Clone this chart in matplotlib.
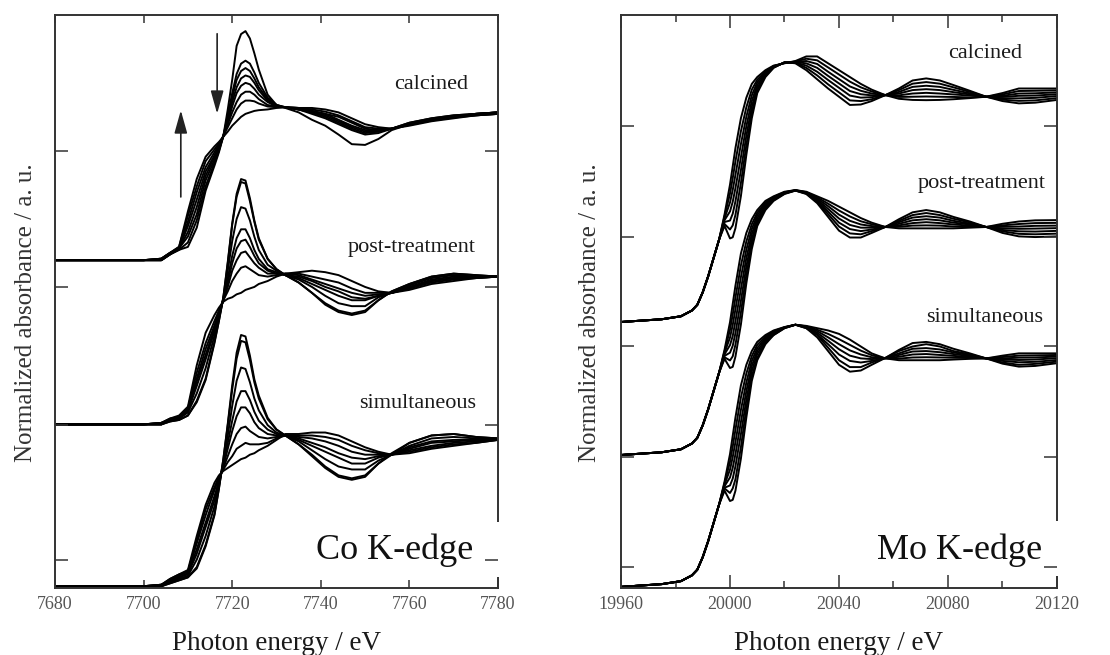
import numpy as np
import matplotlib
matplotlib.use('Agg')
import matplotlib.pyplot as plt
from matplotlib.patches import Rectangle

plt.rcParams['font.family'] = ['Liberation Serif', 'DejaVu Serif']
plt.rcParams['axes.unicode_minus'] = False

# ---------------- Co K-edge 数据 (归一化吸收, 每组 8 条谱) ----------------
co_energy = [7680, 7700, 7704, 7706, 7708, 7710, 7712, 7714, 7716, 7717,
             7718, 7719, 7720, 7721, 7722, 7723, 7724, 7725, 7726, 7728,
             7730, 7732, 7735, 7738, 7741, 7744, 7747, 7750, 7753, 7756,
             7760, 7765, 7770, 7775, 7780]

co_calcined = [
    [0.00, 0.00, 0.00, 0.04, 0.07, 0.09, 0.22, 0.47, 0.64, 0.73, 0.84, 1.02, 1.22, 1.45, 1.53, 1.55, 1.50, 1.40, 1.29, 1.12, 1.05, 1.03, 1.00, 0.95, 0.91, 0.85, 0.785, 0.78, 0.82, 0.88, 0.92, 0.95, 0.97, 0.99, 1.00],
    [0.00, 0.00, 0.00, 0.04, 0.07, 0.12, 0.27, 0.50, 0.66, 0.74, 0.84, 0.98, 1.13, 1.26, 1.33, 1.35, 1.33, 1.27, 1.20, 1.10, 1.05, 1.035, 1.02, 0.99, 0.96, 0.92, 0.88, 0.85, 0.86, 0.89, 0.93, 0.96, 0.98, 0.99, 1.00],
    [0.00, 0.00, 0.00, 0.04, 0.08, 0.16, 0.31, 0.54, 0.68, 0.75, 0.84, 0.96, 1.10, 1.22, 1.28, 1.30, 1.28, 1.23, 1.17, 1.09, 1.05, 1.035, 1.02, 1.00, 0.97, 0.93, 0.89, 0.86, 0.87, 0.89, 0.93, 0.96, 0.98, 0.99, 1.00],
    [0.00, 0.00, 0.00, 0.04, 0.08, 0.19, 0.36, 0.57, 0.70, 0.76, 0.84, 0.95, 1.07, 1.17, 1.23, 1.25, 1.24, 1.20, 1.15, 1.08, 1.04, 1.035, 1.02, 1.00, 0.98, 0.94, 0.90, 0.87, 0.87, 0.89, 0.92, 0.95, 0.97, 0.99, 1.00],
    [0.00, 0.00, 0.01, 0.05, 0.08, 0.23, 0.41, 0.60, 0.71, 0.77, 0.84, 0.93, 1.04, 1.13, 1.18, 1.20, 1.19, 1.16, 1.12, 1.07, 1.04, 1.035, 1.02, 1.01, 0.99, 0.95, 0.91, 0.88, 0.88, 0.89, 0.92, 0.95, 0.97, 0.99, 1.00],
    [0.00, 0.00, 0.01, 0.05, 0.08, 0.26, 0.46, 0.63, 0.73, 0.78, 0.84, 0.92, 1.00, 1.07, 1.12, 1.14, 1.14, 1.12, 1.09, 1.05, 1.04, 1.035, 1.03, 1.01, 0.99, 0.97, 0.93, 0.89, 0.88, 0.89, 0.92, 0.95, 0.97, 0.98, 0.99],
    [0.00, 0.00, 0.01, 0.05, 0.09, 0.30, 0.50, 0.67, 0.75, 0.79, 0.84, 0.90, 0.96, 1.02, 1.06, 1.08, 1.08, 1.075, 1.06, 1.04, 1.035, 1.035, 1.03, 1.02, 1.005, 0.98, 0.94, 0.90, 0.89, 0.89, 0.915, 0.945, 0.965, 0.98, 0.99],
    [0.00, 0.00, 0.01, 0.05, 0.09, 0.33, 0.55, 0.70, 0.77, 0.80, 0.835, 0.87, 0.91, 0.94, 0.97, 0.99, 1.00, 1.01, 1.015, 1.02, 1.03, 1.035, 1.03, 1.03, 1.02, 1.00, 0.96, 0.92, 0.90, 0.89, 0.91, 0.94, 0.96, 0.98, 0.99],
]

co_post = [
    [0.00, 0.00, 0.00, 0.02, 0.03, 0.06, 0.15, 0.30, 0.55, 0.70, 0.86, 1.10, 1.36, 1.56, 1.66, 1.65, 1.53, 1.38, 1.26, 1.12, 1.05, 1.01, 0.96, 0.89, 0.81, 0.76, 0.74, 0.76, 0.84, 0.90, 0.95, 1.00, 1.02, 1.01, 1.00],
    [0.00, 0.00, 0.00, 0.02, 0.03, 0.06, 0.16, 0.31, 0.56, 0.70, 0.86, 1.09, 1.35, 1.54, 1.64, 1.63, 1.51, 1.37, 1.25, 1.12, 1.05, 1.01, 0.96, 0.89, 0.82, 0.77, 0.75, 0.77, 0.84, 0.90, 0.95, 1.00, 1.02, 1.01, 1.00],
    [0.00, 0.00, 0.00, 0.03, 0.04, 0.08, 0.21, 0.38, 0.60, 0.72, 0.85, 1.04, 1.24, 1.39, 1.47, 1.46, 1.38, 1.27, 1.18, 1.08, 1.04, 1.01, 0.98, 0.93, 0.87, 0.82, 0.80, 0.80, 0.86, 0.89, 0.94, 0.99, 1.01, 1.00, 1.00],
    [0.00, 0.00, 0.00, 0.03, 0.04, 0.09, 0.26, 0.44, 0.63, 0.74, 0.85, 0.99, 1.14, 1.26, 1.32, 1.32, 1.26, 1.18, 1.12, 1.05, 1.03, 1.01, 0.99, 0.95, 0.91, 0.87, 0.84, 0.84, 0.87, 0.89, 0.93, 0.98, 1.00, 1.00, 1.00],
    [0.00, 0.00, 0.01, 0.03, 0.05, 0.09, 0.29, 0.47, 0.65, 0.75, 0.84, 0.96, 1.09, 1.19, 1.24, 1.25, 1.20, 1.14, 1.09, 1.04, 1.02, 1.01, 1.00, 0.97, 0.93, 0.90, 0.86, 0.85, 0.87, 0.89, 0.93, 0.97, 0.99, 1.00, 1.00],
    [0.00, 0.00, 0.01, 0.03, 0.05, 0.10, 0.31, 0.51, 0.67, 0.76, 0.84, 0.93, 1.04, 1.11, 1.16, 1.17, 1.13, 1.09, 1.06, 1.02, 1.02, 1.02, 1.01, 0.98, 0.95, 0.92, 0.89, 0.87, 0.88, 0.89, 0.92, 0.97, 0.99, 0.99, 1.00],
    [0.00, 0.00, 0.01, 0.04, 0.05, 0.11, 0.35, 0.55, 0.70, 0.77, 0.84, 0.90, 0.97, 1.02, 1.06, 1.07, 1.05, 1.03, 1.01, 1.00, 1.01, 1.02, 1.02, 1.00, 0.98, 0.96, 0.92, 0.89, 0.89, 0.89, 0.92, 0.96, 0.98, 0.99, 1.00],
    [0.00, 0.00, 0.01, 0.04, 0.06, 0.12, 0.40, 0.62, 0.74, 0.79, 0.83, 0.85, 0.86, 0.88, 0.89, 0.91, 0.92, 0.93, 0.95, 0.97, 1.00, 1.02, 1.03, 1.04, 1.03, 1.01, 0.97, 0.93, 0.90, 0.89, 0.91, 0.95, 0.97, 0.99, 1.00],
]

co_simul = [
    [0.00, 0.00, 0.00, 0.02, 0.04, 0.06, 0.12, 0.27, 0.48, 0.66, 0.86, 1.10, 1.36, 1.58, 1.70, 1.69, 1.56, 1.40, 1.29, 1.14, 1.06, 1.02, 0.96, 0.88, 0.80, 0.74, 0.72, 0.74, 0.83, 0.90, 0.97, 1.02, 1.03, 1.01, 1.00],
    [0.00, 0.00, 0.00, 0.02, 0.04, 0.06, 0.13, 0.28, 0.49, 0.66, 0.86, 1.09, 1.33, 1.54, 1.66, 1.65, 1.53, 1.38, 1.27, 1.13, 1.06, 1.02, 0.96, 0.89, 0.81, 0.75, 0.73, 0.75, 0.83, 0.89, 0.97, 1.02, 1.03, 1.01, 1.00],
    [0.00, 0.00, 0.00, 0.03, 0.05, 0.07, 0.18, 0.34, 0.54, 0.68, 0.84, 1.02, 1.22, 1.39, 1.48, 1.47, 1.38, 1.27, 1.19, 1.09, 1.04, 1.02, 0.98, 0.92, 0.86, 0.81, 0.79, 0.79, 0.85, 0.89, 0.95, 1.00, 1.01, 1.00, 1.00],
    [0.00, 0.00, 0.00, 0.03, 0.06, 0.08, 0.22, 0.40, 0.58, 0.70, 0.82, 0.97, 1.12, 1.25, 1.32, 1.32, 1.26, 1.18, 1.12, 1.06, 1.03, 1.02, 0.99, 0.95, 0.91, 0.87, 0.83, 0.83, 0.87, 0.89, 0.94, 0.98, 0.99, 0.99, 0.99],
    [0.00, 0.00, 0.01, 0.04, 0.06, 0.09, 0.25, 0.43, 0.61, 0.71, 0.81, 0.93, 1.05, 1.15, 1.21, 1.21, 1.17, 1.11, 1.07, 1.03, 1.02, 1.02, 1.00, 0.97, 0.94, 0.90, 0.87, 0.86, 0.88, 0.89, 0.93, 0.97, 0.98, 0.99, 0.99],
    [0.00, 0.00, 0.01, 0.04, 0.07, 0.10, 0.29, 0.48, 0.65, 0.73, 0.80, 0.88, 0.96, 1.03, 1.07, 1.08, 1.05, 1.03, 1.01, 1.00, 1.01, 1.02, 1.01, 1.00, 0.98, 0.95, 0.91, 0.89, 0.89, 0.89, 0.92, 0.95, 0.97, 0.98, 0.99],
    [0.00, 0.00, 0.01, 0.05, 0.08, 0.10, 0.31, 0.52, 0.67, 0.74, 0.79, 0.84, 0.88, 0.93, 0.95, 0.97, 0.96, 0.96, 0.96, 0.97, 1.00, 1.02, 1.02, 1.02, 1.01, 0.99, 0.95, 0.92, 0.90, 0.89, 0.91, 0.94, 0.96, 0.97, 0.99],
    [0.00, 0.00, 0.01, 0.05, 0.08, 0.11, 0.34, 0.55, 0.70, 0.75, 0.78, 0.80, 0.82, 0.84, 0.86, 0.87, 0.89, 0.90, 0.92, 0.95, 0.99, 1.03, 1.03, 1.04, 1.04, 1.02, 0.98, 0.94, 0.91, 0.89, 0.90, 0.93, 0.95, 0.97, 0.99],
]

co_offsets = [2.206, 1.095, 0.0]

# ---------------- Mo K-edge 数据 (每组 7 条谱, 吸收边前部分共用) ----------------
mo_energy = [19960, 19975, 19982, 19986, 19988, 19990, 19992, 19994, 19996,
             19998, 20000, 20001, 20002, 20004, 20006, 20008, 20010, 20013, 20016,
             20020, 20024, 20028, 20032, 20036, 20040, 20044, 20048, 20052, 20057,
             20062, 20067, 20072, 20077, 20082, 20088, 20094, 20100, 20106, 20112, 20120]

mo_pre_edge = [0.0, 0.012, 0.025, 0.05, 0.075, 0.13, 0.20, 0.28, 0.36]

mo_calcined = [
    [0.42, 0.365, 0.37, 0.41, 0.55, 0.73, 0.89, 1.00, 1.07, 1.11, 1.135, 1.13, 1.10, 1.06, 1.02, 0.984, 0.948, 0.95, 0.965, 0.991, 1.02, 1.055, 1.064, 1.055, 1.035, 1.01, 0.984, 0.965, 0.955, 0.958, 0.97],
    [0.428, 0.404, 0.422, 0.468, 0.607, 0.772, 0.915, 1.012, 1.075, 1.112, 1.134, 1.132, 1.11, 1.077, 1.038, 1.003, 0.968, 0.965, 0.973, 0.991, 1.013, 1.041, 1.048, 1.041, 1.025, 1.005, 0.984, 0.971, 0.966, 0.968, 0.978],
    [0.437, 0.443, 0.473, 0.527, 0.663, 0.813, 0.94, 1.023, 1.08, 1.113, 1.133, 1.133, 1.12, 1.093, 1.057, 1.023, 0.989, 0.98, 0.982, 0.991, 1.005, 1.027, 1.032, 1.027, 1.014, 0.999, 0.984, 0.977, 0.977, 0.979, 0.987],
    [0.445, 0.483, 0.525, 0.585, 0.72, 0.855, 0.965, 1.035, 1.085, 1.115, 1.133, 1.135, 1.13, 1.11, 1.075, 1.042, 1.009, 0.995, 0.99, 0.991, 0.998, 1.013, 1.017, 1.013, 1.004, 0.994, 0.984, 0.983, 0.988, 0.989, 0.995],
    [0.453, 0.522, 0.577, 0.643, 0.777, 0.897, 0.99, 1.047, 1.09, 1.117, 1.132, 1.137, 1.14, 1.127, 1.093, 1.061, 1.029, 1.01, 0.998, 0.991, 0.99, 0.998, 1.001, 0.998, 0.994, 0.989, 0.984, 0.988, 0.998, 0.999, 1.003],
    [0.462, 0.561, 0.628, 0.702, 0.833, 0.938, 1.015, 1.058, 1.095, 1.118, 1.131, 1.138, 1.15, 1.143, 1.112, 1.081, 1.05, 1.025, 1.007, 0.991, 0.983, 0.984, 0.985, 0.984, 0.983, 0.981, 0.984, 0.994, 1.009, 1.01, 1.012],
    [0.47, 0.60, 0.68, 0.76, 0.89, 0.98, 1.04, 1.07, 1.10, 1.12, 1.13, 1.14, 1.16, 1.16, 1.13, 1.10, 1.07, 1.04, 1.015, 0.991, 0.975, 0.97, 0.969, 0.97, 0.973, 0.978, 0.984, 1.0, 1.02, 1.02, 1.02],
]

mo_post = [
    [0.42, 0.38, 0.385, 0.43, 0.57, 0.75, 0.90, 1.00, 1.07, 1.11, 1.14, 1.155, 1.14, 1.10, 1.04, 0.98, 0.95, 0.95, 0.97, 0.996, 1.03, 1.06, 1.07, 1.06, 1.04, 1.02, 0.996, 0.97, 0.955, 0.952, 0.955],
    [0.427, 0.413, 0.431, 0.482, 0.622, 0.787, 0.922, 1.012, 1.077, 1.113, 1.142, 1.155, 1.142, 1.105, 1.052, 0.998, 0.968, 0.964, 0.978, 0.996, 1.023, 1.048, 1.057, 1.048, 1.032, 1.016, 0.996, 0.977, 0.966, 0.964, 0.967],
    [0.433, 0.447, 0.477, 0.533, 0.673, 0.823, 0.943, 1.023, 1.083, 1.117, 1.143, 1.156, 1.143, 1.11, 1.063, 1.015, 0.987, 0.978, 0.985, 0.996, 1.017, 1.037, 1.043, 1.037, 1.023, 1.011, 0.996, 0.983, 0.977, 0.976, 0.979],
    [0.44, 0.48, 0.52, 0.585, 0.725, 0.86, 0.965, 1.035, 1.09, 1.12, 1.145, 1.156, 1.145, 1.115, 1.075, 1.033, 1.005, 0.993, 0.993, 0.996, 1.01, 1.025, 1.03, 1.025, 1.015, 1.007, 0.996, 0.99, 0.988, 0.989, 0.991],
    [0.447, 0.513, 0.568, 0.637, 0.777, 0.897, 0.987, 1.047, 1.097, 1.123, 1.147, 1.156, 1.147, 1.12, 1.087, 1.05, 1.023, 1.007, 1.0, 0.996, 1.003, 1.013, 1.017, 1.013, 1.007, 1.002, 0.996, 0.997, 0.998, 1.001, 1.002],
    [0.453, 0.547, 0.614, 0.688, 0.828, 0.933, 1.008, 1.058, 1.103, 1.127, 1.148, 1.157, 1.148, 1.125, 1.098, 1.068, 1.042, 1.021, 1.008, 0.996, 0.997, 1.002, 1.003, 1.002, 0.998, 0.997, 0.996, 1.003, 1.009, 1.013, 1.014],
    [0.46, 0.58, 0.66, 0.74, 0.88, 0.97, 1.03, 1.07, 1.11, 1.13, 1.15, 1.157, 1.15, 1.13, 1.11, 1.085, 1.06, 1.035, 1.015, 0.996, 0.99, 0.99, 0.99, 0.99, 0.99, 0.993, 0.996, 1.01, 1.02, 1.025, 1.026],
]

mo_simul = [
    [0.42, 0.375, 0.38, 0.42, 0.56, 0.74, 0.90, 0.99, 1.06, 1.10, 1.13, 1.145, 1.13, 1.09, 1.03, 0.97, 0.94, 0.945, 0.97, 1.00, 1.035, 1.065, 1.07, 1.06, 1.04, 1.02, 0.998, 0.975, 0.962, 0.965, 0.977],
    [0.43, 0.41, 0.43, 0.47, 0.61, 0.78, 0.92, 1.00, 1.07, 1.10, 1.13, 1.145, 1.13, 1.10, 1.045, 0.99, 0.96, 0.96, 0.98, 1.00, 1.03, 1.05, 1.06, 1.05, 1.03, 1.016, 0.998, 0.98, 0.97, 0.974, 0.984],
    [0.433, 0.443, 0.473, 0.527, 0.667, 0.817, 0.943, 1.017, 1.073, 1.107, 1.132, 1.145, 1.133, 1.103, 1.06, 1.015, 0.987, 0.98, 0.987, 0.999, 1.02, 1.04, 1.043, 1.037, 1.024, 1.012, 0.998, 0.987, 0.981, 0.983, 0.991],
    [0.44, 0.478, 0.52, 0.58, 0.72, 0.855, 0.965, 1.03, 1.08, 1.11, 1.133, 1.145, 1.135, 1.11, 1.075, 1.038, 1.01, 0.998, 0.995, 0.999, 1.013, 1.028, 1.03, 1.025, 1.017, 1.008, 0.998, 0.993, 0.991, 0.993, 0.999],
    [0.447, 0.512, 0.567, 0.633, 0.773, 0.893, 0.987, 1.043, 1.087, 1.113, 1.133, 1.145, 1.137, 1.117, 1.09, 1.06, 1.033, 1.015, 1.003, 0.999, 1.005, 1.015, 1.017, 1.013, 1.009, 1.004, 0.998, 0.998, 1.001, 1.002, 1.006],
    [0.453, 0.546, 0.613, 0.687, 0.827, 0.932, 1.008, 1.057, 1.093, 1.117, 1.134, 1.145, 1.138, 1.123, 1.105, 1.082, 1.057, 1.032, 1.012, 0.998, 0.997, 1.002, 1.003, 1.002, 1.001, 1.0, 0.998, 1.004, 1.01, 1.011, 1.013],
    [0.46, 0.58, 0.66, 0.74, 0.88, 0.97, 1.03, 1.07, 1.10, 1.12, 1.135, 1.145, 1.14, 1.13, 1.12, 1.105, 1.08, 1.05, 1.02, 0.998, 0.99, 0.99, 0.99, 0.99, 0.993, 0.996, 0.998, 1.01, 1.02, 1.02, 1.02],
]

mo_offsets = [1.157, 0.576, 0.0]

group_names = ['calcined', 'post-treatment', 'simultaneous']

# 标签位置 (数据坐标)
co_label_pos = [(7764.9, 3.395), (7760.4, 2.294), (7761.9, 1.233)]
mo_label_pos = [(20093.8, 2.332), (20092.5, 1.764), (20093.6, 1.175)]

line_kw = dict(color='black', linewidth=1.4)
tick_color = '#555555'
text_color = '#1a1a1a'

fig = plt.figure(figsize=(11.1, 6.55), dpi=100)
ax1 = fig.add_axes([0.04955, 0.10229, 0.39910, 0.87481])
ax2 = fig.add_axes([0.55946, 0.10229, 0.39279, 0.87481])

# 1. Co K-edge
for group, off in zip([co_calcined, co_post, co_simul], co_offsets):
    for spec in group:
        ax1.plot(co_energy, np.array(spec) + off, **line_kw)

# 2. Mo K-edge
for group, off in zip([mo_calcined, mo_post, mo_simul], mo_offsets):
    for spec in group:
        y = np.concatenate([mo_pre_edge, spec]) + off
        ax2.plot(mo_energy, y, **line_kw)

for name, (x, y) in zip(group_names, co_label_pos):
    ax1.text(x, y, name, ha='center', va='center', fontsize=16, color=text_color)
for name, (x, y) in zip(group_names, mo_label_pos):
    ax2.text(x, y, name, ha='center', va='center', fontsize=16, color=text_color)

# 箭头 (前边峰上升, 白线峰下降)
arrow_kw = dict(arrowstyle='-|>,head_length=1.0,head_width=0.28', color='#222222',
                lw=1.2, mutation_scale=14, shrinkA=0, shrinkB=0)
ax1.annotate('', xy=(7708.4, 3.22), xytext=(7708.4, 2.634), arrowprops=arrow_kw)
ax1.annotate('', xy=(7716.6, 3.197), xytext=(7716.6, 3.738), arrowprops=arrow_kw)

# 坐标轴
ax1.set_xlim(7680, 7780)
ax1.set_ylim(-0.012, 3.865)
ax1.set_xticks(np.arange(7680, 7781, 20))
ax1.set_yticks([0.179, 1.091, 2.024, 2.943])
ax1.tick_params(axis='x', length=6, width=1.1)
ax1.tick_params(axis='y', length=9.5, width=1.1)

ax2.set_xlim(19960, 20120)
ax2.set_ylim(-0.005, 2.498)
ax2.set_xticks(np.arange(19960, 20121, 40))
ax2.set_xticks(np.arange(19980, 20120, 40), minor=True)
ax2.set_yticks([0.087, 0.568, 1.052, 1.528, 2.013])
ax2.tick_params(axis='x', which='major', length=9.5, width=1.1)
ax2.tick_params(axis='x', which='minor', length=5, width=1.1)
ax2.tick_params(axis='y', length=9.5, width=1.1)

for ax, edge_text, xpos, ylab_x in [(ax1, 'Co K-edge', 7774.4, -0.041),
                                    (ax2, 'Mo K-edge', 20114.5, -0.046)]:
    ax.tick_params(which='both', direction='in', top=True, right=True,
                   labelsize=13, labelcolor=tick_color, color='#333333', pad=6)
    ax.set_yticklabels([])
    for sp in ax.spines.values():
        sp.set_linewidth(1.4)
        sp.set_color('#333333')
    ax.set_xlabel('Photon energy / eV', fontsize=19.5, color=text_color, labelpad=13)
    ax.set_ylabel('Normalized absorbance / a. u.', fontsize=18, color='#333333')
    ax.yaxis.set_label_coords(ylab_x, 0.48)
    ytxt = 0.186 if ax is ax1 else 0.122
    ax.text(xpos, ytxt, edge_text, ha='right', va='baseline', fontsize=26,
            color='#111111', zorder=6)
    # 刻度画在白块之上
    ax.yaxis.set_zorder(7)

# 标签处右框线被白底遮住的小缺口
ax1.add_patch(Rectangle((0.975, 0.019), 0.035, 0.096, transform=ax1.transAxes,
                        facecolor='white', edgecolor='none', clip_on=False, zorder=5))
ax2.add_patch(Rectangle((0.975, 0.021), 0.035, 0.096, transform=ax2.transAxes,
                        facecolor='white', edgecolor='none', clip_on=False, zorder=5))

fig.savefig('out.png', dpi=100)
